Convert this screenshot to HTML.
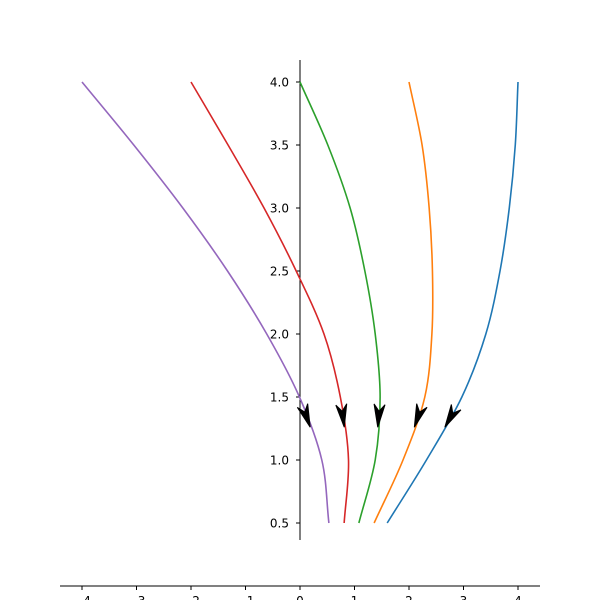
<!DOCTYPE html>
<html><head><meta charset="utf-8"><style>
html,body{margin:0;padding:0;background:#fff;width:600px;height:600px;overflow:hidden}
svg text{font-family:"DejaVu Sans","Liberation Sans",sans-serif;font-size:12px;fill:#000}
</style></head><body>
<svg id="chart" width="600" height="600" viewBox="0 0 600 600" xmlns="http://www.w3.org/2000/svg">
<g id="axes"></g>
<g id="curves"></g>
<g id="arrows"></g>
</svg>
<script>
const yLevels = [4.0, 3.5, 3.0, 2.5, 2.0, 1.5, 1.0, 0.5];
const purpleX = [-4.0, -3.05, -2.15, -1.33, -0.61, -0.01, 0.40, 0.53];
const redX = [-2.0, -1.32, -0.66, -0.07, 0.44, 0.74, 0.89, 0.81];
const greenX = [0.0, 0.51, 0.92, 1.19, 1.38, 1.47, 1.38, 1.08];
const orangeX = [2.0, 2.24, 2.37, 2.43, 2.42, 2.29, 1.89, 1.36];
const blueX = [4.0, 3.95, 3.84, 3.67, 3.41, 2.97, 2.32, 1.60];
const xTicks = [-4, -3, -2, -1, 0, 1, 2, 3, 4];
const yTicks = [0.5, 1.0, 1.5, 2.0, 2.5, 3.0, 3.5, 4.0];
const yTickLabels = ["0.5", "1.0", "1.5", "2.0", "2.5", "3.0", "3.5", "4.0"];

const NS = "http://www.w3.org/2000/svg";
const sx = v => 300 + v * 54.5;
const sy = v => 586 - v * 126;
function mk(tag, attrs, parent){const e=document.createElementNS(NS,tag);for(const k in attrs)e.setAttribute(k,attrs[k]);parent.appendChild(e);return e;}

const axes = document.getElementById('axes');
let l = mk('line',{x1:300,y1:60,x2:300,y2:540,stroke:'#000','stroke-width':1},axes);


l = mk('line',{x1:60,y1:586,x2:540,y2:586,stroke:'#000','stroke-width':1},axes);


yTicks.forEach((v,i)=>{
  const t = mk('line',{x1:296,y1:sy(v),x2:300,y2:sy(v),stroke:'#000'},axes);
  
  
  const tx = mk('text',{x:289,y:sy(v)+4.5,'text-anchor':'end'},axes);
  tx.textContent = yTickLabels[i];
  
  
});
xTicks.forEach(v=>{
  const t = mk('line',{x1:sx(v),y1:586,x2:sx(v),y2:590,stroke:'#000'},axes);
  
  
  const tx = mk('text',{x:sx(v),y:605,'text-anchor':'middle'},axes);
  tx.textContent = v < 0 ? '\u2212'+Math.abs(v) : String(v);
  
  
});

function pathFor(xs){
  const p = xs.map((x,i)=>[sx(x),sy(yLevels[i])]);
  let d = 'M'+p[0][0]+','+p[0][1];
  for(let i=0;i<p.length-1;i++){
    const p0=i>0?p[i-1]:[2*p[0][0]-p[1][0],2*p[0][1]-p[1][1]];
    const p1=p[i],p2=p[i+1];
    const n=p.length-1;
    const p3=i+2<=n?p[i+2]:[2*p[n][0]-p[n-1][0],2*p[n][1]-p[n-1][1]];
    const c1=[p1[0]+(p2[0]-p0[0])/6,p1[1]+(p2[1]-p0[1])/6];
    const c2=[p2[0]-(p3[0]-p1[0])/6,p2[1]-(p3[1]-p1[1])/6];
    d+=' C'+c1[0]+','+c1[1]+' '+c2[0]+','+c2[1]+' '+p2[0]+','+p2[1];
  }
  return d;
}
function xAt(xs,y){
  for(let i=0;i<yLevels.length-1;i++){
    const a=yLevels[i],b=yLevels[i+1];
    if(y<=a&&y>=b){const t=(a-y)/(a-b);return xs[i]+(xs[i+1]-xs[i])*t;}
  }
  return xs[xs.length-1];
}
const series = [
  ['blue',blueX,'#1f77b4'],['orange',orangeX,'#ff7f0e'],['green',greenX,'#2ca02c'],
  ['red',redX,'#d62728'],['purple',purpleX,'#9467bd']];
const cg = document.getElementById('curves'), ag = document.getElementById('arrows');
series.forEach(([n,xs,c])=>{
  const p = mk('path',{d:pathFor(xs),fill:'none',stroke:c,'stroke-width':1.6},cg);
  
  
  const x0=sx(xAt(xs,1.48)),y0=sy(1.48),x1=sx(xAt(xs,1.26)),y1=sy(1.26);
  const dx=x1-x0,dy=y1-y0,L=Math.hypot(dx,dy),ux=dx/L,uy=dy/L,nx=-uy,ny=ux;
  const hl=23,hw=5.5;
  const bx=x1-ux*hl,by=y1-uy*hl, mx=x1-ux*hl*0.7,my=y1-uy*hl*0.7;
  const pts=[[x1,y1],[bx+nx*hw,by+ny*hw],[mx,my],[bx-nx*hw,by-ny*hw]];
  const a = mk('polygon',{points:pts.map(q=>q.join(',')).join(' '),fill:'#000',stroke:'#000','stroke-width':1},ag);
  
  
});
</script>
</body></html>
